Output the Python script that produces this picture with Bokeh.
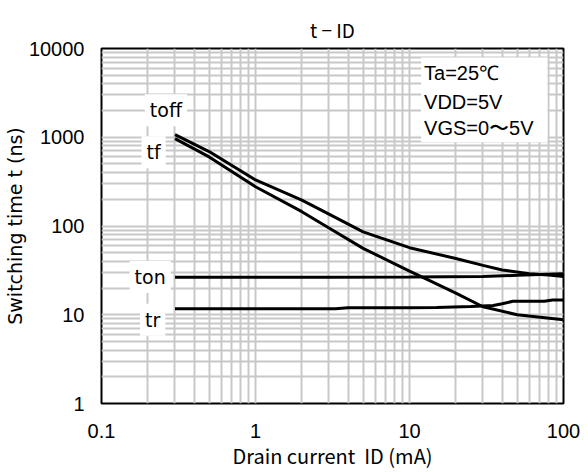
from bokeh.plotting import figure
from bokeh.models import Label, BoxAnnotation, FixedTicker, CustomJSTickFormatter
from bokeh.embed import file_html
from bokeh.resources import INLINE

# ---- data ----
toff_x = [0.3, 0.5, 1, 2, 3, 5, 10, 20, 30, 40, 60, 80, 100]
toff_y = [1070, 690, 330, 196, 136, 86, 57, 43, 36, 32, 29, 28, 27]
tf_x = [0.3, 0.5, 1, 2, 3, 5, 10, 13, 20, 30, 50, 100]
tf_y = [965, 600, 277, 145, 95, 56, 31, 25, 17.5, 12.3, 10, 8.8]
ton_x = [0.3, 1, 3, 10, 30, 50, 70, 100]
ton_y = [26.5, 26.5, 26.5, 26.6, 27, 27.8, 28.5, 29]
tr_x = [0.3, 3.3, 4, 10, 15, 25, 35, 40, 47, 75, 85, 100]
tr_y = [11.7, 11.7, 12.0, 12.0, 12.1, 12.4, 12.7, 13.3, 14.2, 14.2, 14.7, 14.7]

x_ticks = [0.1, 1, 10, 100]
x_tick_labels = ["0.1", "1", "10", "100"]
y_ticks = [1, 10, 100, 1000, 10000]
y_tick_labels = ["1", "10", "100", "1000", "10000"]

title_text = "t − ID"
x_label = "Drain current\u00a0 ID (mA)"
y_label = "Switching time t (ns)"
cond_lines = ["Ta=25℃", "VDD=5V", "VGS=0〜5V"]


def minors(majors):
    out = []
    for m in majors[:-1]:
        out += [m * k for k in range(2, 10)]
    return out


p = figure(width=588, height=472, x_axis_type="log", y_axis_type="log",
           x_range=(0.1, 100), y_range=(1, 10000),
           output_backend="svg", toolbar_location=None,
           min_border_left=99, min_border_right=25,
           min_border_top=48, min_border_bottom=68)

p.title.text = title_text
p.title.align = "center"
p.title.text_font = "Noto Sans CJK JP"
p.title.text_font_size = "19px"
p.title.text_font_style = "normal"
p.title.text_color = "black"
p.title.standoff = 12

p.background_fill_color = "white"
p.border_fill_color = "white"
p.outline_line_color = "black"
p.outline_line_width = 2

xt = FixedTicker(ticks=x_ticks, minor_ticks=minors(x_ticks))
yt = FixedTicker(ticks=y_ticks, minor_ticks=minors(y_ticks))
p.xaxis.ticker = xt
p.yaxis.ticker = yt
p.xgrid.ticker = xt
p.ygrid.ticker = yt

fmt_code = """
const i = t.findIndex(v => Math.abs(v - tick) < 1e-9 * Math.max(1, v)); return i >= 0 ? l[i] : '';"""
p.xaxis.formatter = CustomJSTickFormatter(args=dict(t=x_ticks, l=x_tick_labels), code=fmt_code)
p.yaxis.formatter = CustomJSTickFormatter(args=dict(t=y_ticks, l=y_tick_labels), code=fmt_code)

for g in (p.xgrid, p.ygrid):
    g.grid_line_color = "#c8c8c8"
    g.grid_line_width = 2
    g.minor_grid_line_color = "#c8c8c8"
    g.minor_grid_line_width = 2

for ax in (p.xaxis, p.yaxis):
    ax.axis_line_color = None
    ax.major_tick_line_color = None
    ax.minor_tick_line_color = None
    ax.major_tick_out = 0
    ax.major_tick_in = 0
    ax.minor_tick_out = 0
    ax.minor_tick_in = 0
    ax.major_label_text_font = "Liberation Sans"
    ax.major_label_text_font_size = "20px"
    ax.major_label_text_color = "black"
    ax.axis_label_text_font_style = "normal"
    ax.axis_label_text_color = "black"

p.xaxis.major_label_standoff = 20
p.yaxis.major_label_standoff = 17
p.xaxis.axis_label = x_label
p.xaxis.axis_label_text_font = "Noto Sans CJK JP"
p.xaxis.axis_label_text_font_size = "20px"
p.xaxis.axis_label_standoff = 0
p.yaxis.axis_label = y_label
p.yaxis.axis_label_text_font = "DejaVu Sans"
p.yaxis.axis_label_text_font_size = "19px"
p.yaxis.axis_label_standoff = 0

for xs, ys in ((toff_x, toff_y), (tf_x, tf_y), (ton_x, ton_y), (tr_x, tr_y)):
    p.line(xs, ys, line_color="black", line_width=3)

# condition box
p.add_layout(BoxAnnotation(left=11.9, right=78.7, bottom=879, top=7925,
                           fill_color="white", fill_alpha=1, line_color=None))
for txt, yy in zip(cond_lines, [5308, 2506, 1262]):
    p.add_layout(Label(x=12.43, y=yy, text=txt, text_align="left", text_baseline="middle",
                       text_font="Liberation Sans", text_font_size="20px", text_color="black"))

# curve labels
for txt, xx, yy in (("toff", 0.262, 2011), ("tf", 0.218, 678),
                    ("ton", 0.207, 26.7), ("tr", 0.215, 8.79)):
    p.add_layout(Label(x=xx, y=yy, text=txt, text_align="center", text_baseline="middle",
                       text_font="DejaVu Sans", text_font_size="19px", text_color="black",
                       background_fill_color="white", padding=5))

open("out.html", "w").write(file_html(p, INLINE))
